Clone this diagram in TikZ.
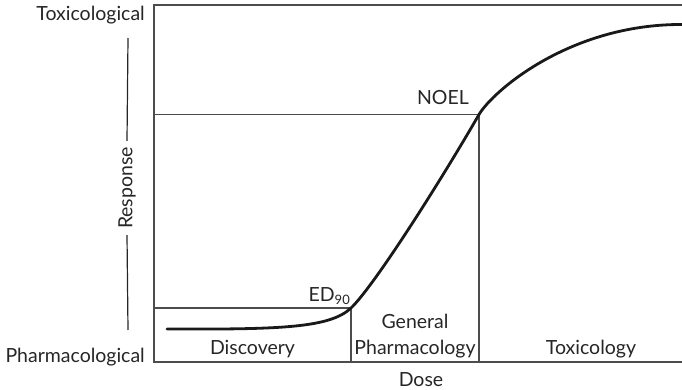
\documentclass[tikz,border=0pt]{standalone}
\usepackage{fontspec}
\setmainfont{Lato}
\begin{document}
\begin{tikzpicture}[x=1pt,y=-1pt,
  frame/.style={draw=black!70,line width=1.3pt},
  curve/.style={draw=black!90,line width=2.8pt,line cap=round},
  lab/.style={inner sep=0pt,font=\fontsize{19.5}{23}\selectfont,text=black!85},
  axlab/.style={lab,anchor=base east}]
\useasboundingbox (0,0) rectangle (682,390);
% frame
\coordinate (tl) at (154,5);
\coordinate (tr) at (682,5);
\coordinate (bl) at (154,362);
\coordinate (br) at (682,362);
\draw[frame] (tr) -- (tl) -- (bl) -- (br);
% ED90 and NOEL guides
\coordinate (ed) at (351,308);
\coordinate (noel) at (479,114.5);
\draw[frame] (tl |- ed) -- (ed) -- (ed |- bl);
\draw[frame] (tl |- noel) -- (noel) -- (noel |- bl);
% curve
\coordinate (c0) at (167,329);
\coordinate (c3) at (682,24.5);
\draw[curve] (c0) .. controls (280,329.5) and (330,328) .. (ed)
  .. controls (375,285) and (443,177) .. (noel)
  .. controls (493,91) and (570,24) .. (c3);
% labels
\node[axlab] (tox) at (145,21) {Toxicological};
\node[axlab] (pharm) at (145,362) {Pharmacological};
\node[lab,rotate=90,inner sep=6pt] (resp) at (127,188) {Response};
\coordinate (ytop) at (128,38);
\coordinate (ybot) at (128,330);
\draw[line width=1.2pt,black!85] (ytop) -- (resp.east);
\draw[line width=1.2pt,black!85] (resp.west) -- (ybot);
\node[lab,anchor=base] (dose) at (421,386) {Dose};
\node[lab,anchor=base] (disc) at (252.5,354) {Discovery};
\node[lab,anchor=base] (gen) at (415,328) {General};
\node[lab,anchor=base] (gp) at (415,354) {Pharmacology};
\node[lab,anchor=base] (toxy) at (591,354) {Toxicology};
\node[lab,anchor=base east] (edl) at (350,301) {ED\raisebox{-3.5pt}{\fontsize{13}{13}\selectfont 90}};
\node[lab,anchor=base east] (noell) at (469,105) {NOEL};
\end{tikzpicture}
\end{document}
